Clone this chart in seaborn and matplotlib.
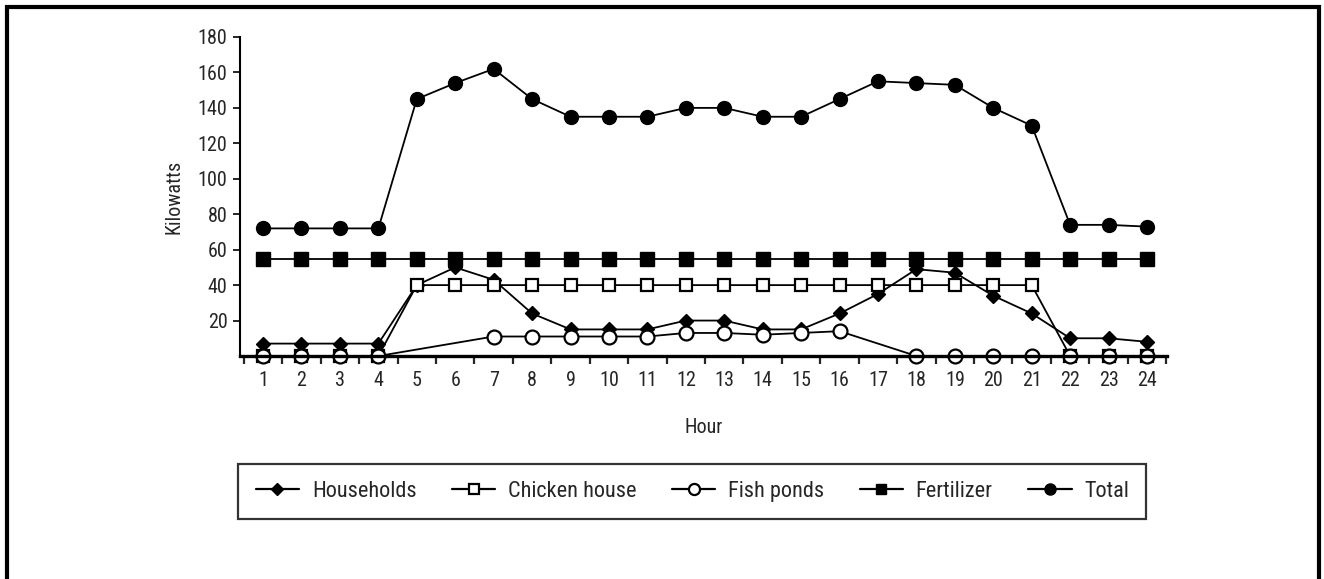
import numpy as np
import pandas as pd
import matplotlib
matplotlib.use("Agg")
import matplotlib.pyplot as plt
import seaborn as sns
from matplotlib.lines import Line2D
from matplotlib.patches import Rectangle

hours = list(range(1, 25))
households = [7, 7, 7, 7, 40, 50, 43, 24, 15, 15, 15, 20, 20, 15, 15, 24, 35, 49, 47, 34, 24, 10, 10, 8]
chicken_house = [0, 0, 0, 0, 40, 40, 40, 40, 40, 40, 40, 40, 40, 40, 40, 40, 40, 40, 40, 40, 40, 0, 0, 0]
fish_ponds = [0, 0, 0, 0, None, None, 11, 11, 11, 11, 11, 13, 13, 12, 13, 14, None, 0, 0, 0, 0, 0, 0, 0]
fertilizer = [55] * 24
total = [72, 72, 72, 72, 145, 154, 162, 145, 135, 135, 135, 140, 140, 135, 135, 145, 155, 154, 153, 140, 130, 74, 74, 73]
series_names = ["Households", "Chicken house", "Fish ponds", "Fertilizer", "Total"]
y_ticks = [20, 40, 60, 80, 100, 120, 140, 160, 180]

sns.set_theme(style="white")
plt.rcParams['font.family'] = ['Liberation Sans Narrow', 'Roboto Condensed', 'DejaVu Sans']
plt.rcParams['font.stretch'] = 'condensed'

fig = plt.figure(figsize=(13.24, 5.79), dpi=100)
ax = fig.add_axes([240/1324, 1-356/579, (1167-240)/1324, (356-37)/579])

styles = {
    "Households": dict(marker="D", ms=7.5, mfc="black", mec="black", mew=1),
    "Chicken house": dict(marker="s", ms=8.5, mfc="white", mec="black", mew=1.6),
    "Fish ponds": dict(marker="o", ms=10, mfc="white", mec="black", mew=1.6),
    "Fertilizer": dict(marker="s", ms=9.5, mfc="black", mec="black", mew=1),
    "Total": dict(marker="o", ms=10, mfc="black", mec="black", mew=1),
}
data = {"Households": households, "Chicken house": chicken_house,
        "Fish ponds": fish_ponds, "Fertilizer": fertilizer, "Total": total}

handles = []
for name in series_names:
    df = pd.DataFrame({"Hour": hours, "kW": data[name]}).dropna()
    st = styles[name]
    sns.lineplot(data=df, x="Hour", y="kW", ax=ax, color="black", lw=1.3,
                 marker=st["marker"], markersize=st["ms"],
                 markerfacecolor=st["mfc"], markeredgecolor=st["mec"],
                 markeredgewidth=st["mew"], clip_on=False, legend=False)
    handles.append(Line2D([0], [0], color="black", lw=1.6, marker=st["marker"],
                          markersize=st["ms"] * 0.8, markerfacecolor=st["mfc"],
                          markeredgecolor=st["mec"], markeredgewidth=st["mew"]))

ax.set_xlim(0.4, 24.52)
ax.set_ylim(0, 180)
ax.set_xticks(hours)
ax.set_xticklabels([str(h) for h in hours])
ax.set_xticks([h + 0.5 for h in range(0, 25)], minor=True)
ax.set_yticks(y_ticks)
ax.tick_params(axis="x", which="major", length=0, pad=11, labelsize=14.5)
ax.tick_params(axis="x", which="minor", length=6, width=1.6, direction="out", bottom=True)
ax.tick_params(axis="y", which="major", length=5, width=1.4, pad=4, labelsize=14.5, left=True)
for s in ["top", "right"]:
    ax.spines[s].set_visible(False)
ax.spines["left"].set_linewidth(1.5)
ax.spines["bottom"].set_linewidth(2.4)
ax.spines["left"].set_color("black")
ax.spines["bottom"].set_color("black")
ax.set_xlabel("Hour", fontsize=14.5, labelpad=20)
ax.set_ylabel("Kilowatts", fontsize=14.5, labelpad=10)
ax.grid(False)

leg = fig.legend(handles, series_names, loc="center", bbox_to_anchor=(0.523, 0.151),
                 ncol=5, fontsize=16, frameon=True, fancybox=False,
                 handlelength=1.95, handletextpad=0.57, columnspacing=1.6,
                 borderpad=0.78)
leg.get_frame().set_edgecolor("black")
leg.get_frame().set_linewidth(1.6)

fig.patches.append(Rectangle((7/1324, -0.05), (1319-7)/1324, 1.05 - 7/579,
                             transform=fig.transFigure, fill=False,
                             edgecolor="black", lw=3, zorder=10))

fig.savefig("out.png", dpi=100)
